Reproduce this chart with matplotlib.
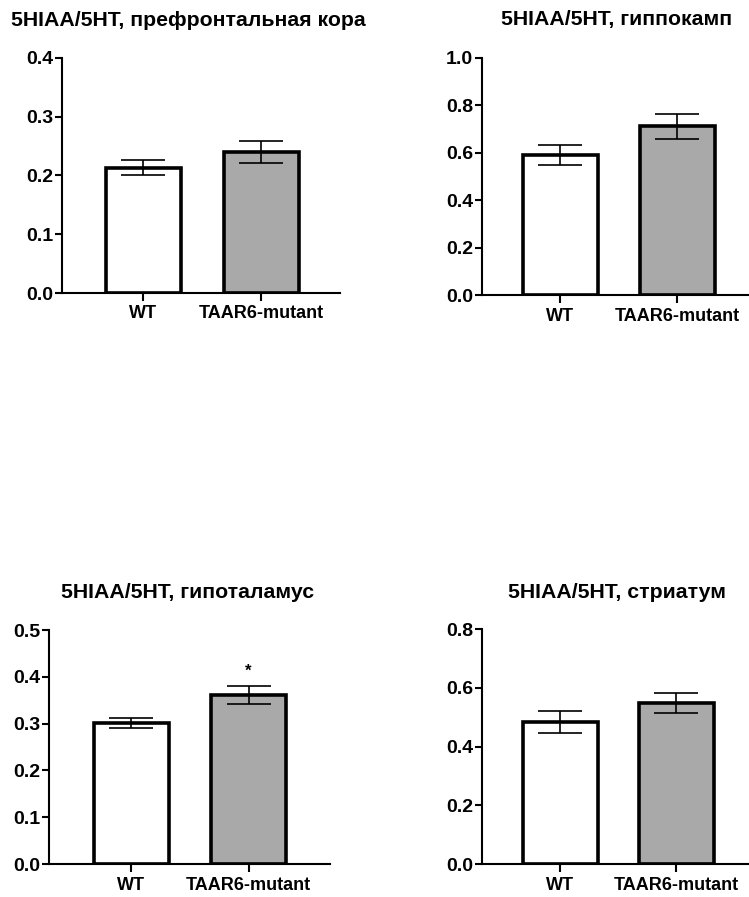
import matplotlib
matplotlib.use("Agg")
import matplotlib.pyplot as plt

plt.rcParams['font.family'] = ['Liberation Sans', 'DejaVu Sans']
plt.rcParams['font.weight'] = 'bold'

groups = ["WT", "TAAR6-mutant"]

titles = [
    "5HIAA/5HT, префронтальная кора",
    "5HIAA/5HT, гиппокамп",
    "5HIAA/5HT, гипоталамус",
    "5HIAA/5HT, стриатум",
]
means_pfc = [0.213, 0.240]
sem_pfc = [0.013, 0.019]
means_hip = [0.591, 0.712]
sem_hip = [0.042, 0.053]
means_hyp = [0.301, 0.361]
sem_hyp = [0.011, 0.020]
means_str = [0.484, 0.548]
sem_str = [0.038, 0.034]

yticks_pfc = [0.0, 0.1, 0.2, 0.3, 0.4]
yticks_hip = [0.0, 0.2, 0.4, 0.6, 0.8, 1.0]
yticks_hyp = [0.0, 0.1, 0.2, 0.3, 0.4, 0.5]
yticks_str = [0.0, 0.2, 0.4, 0.6, 0.8]

significance = [None, None, "*", None]

W, H = 749, 897
fig = plt.figure(figsize=(W / 100, H / 100), dpi=100)

# panel geometry in pixels: y-axis x, x-axis right end, top, bottom, bar spacing
panels = [
    dict(x0=62, x1=340, top=58, bot=293, c0=143, step=118, title_x=188),
    dict(x0=482, x1=760, top=58, bot=295, c0=560, step=117, title_x=617),
    dict(x0=49, x1=330, top=630, bot=864, c0=131, step=117.5, title_x=188),
    dict(x0=482, x1=760, top=629, bot=864, c0=560, step=116, title_x=617),
]
data = [
    (means_pfc, sem_pfc, yticks_pfc),
    (means_hip, sem_hip, yticks_hip),
    (means_hyp, sem_hyp, yticks_hyp),
    (means_str, sem_str, yticks_str),
]
title_y = [21, 20, 592, 592]

bar_px = 75
for p, (m, s, yt), title, tyy, sig in zip(panels, data, titles, title_y, significance):
    ax = fig.add_axes([p["x0"] / W, 1 - p["bot"] / H,
                       (p["x1"] - p["x0"]) / W, (p["bot"] - p["top"]) / H])
    ax.patch.set_alpha(0)
    xl = (p["x0"] - p["c0"]) / p["step"]
    xr = (p["x1"] - p["c0"]) / p["step"]
    ax.set_xlim(xl, xr)
    ax.set_ylim(yt[0], yt[-1])
    xs = [0, 1]
    ax.bar(xs, m, width=bar_px / p["step"], color=["white", "#a9a9a9"],
           edgecolor="black", linewidth=2.6, zorder=2)
    ax.errorbar(xs, m, yerr=s, fmt="none", ecolor="black", elinewidth=1.2,
                capsize=16, capthick=1.2, zorder=3)
    if sig:
        ax.text(1, m[1] + s[1] + (yt[-1] - yt[0]) * 0.062, sig, ha="center",
                va="center", fontsize=12, fontweight="bold")
    for side in ["top", "right"]:
        ax.spines[side].set_visible(False)
    for side in ["left", "bottom"]:
        ax.spines[side].set_linewidth(1.5)
    ax.set_yticks(yt)
    ax.set_yticklabels([f"{v:.1f}" for v in yt])
    ax.set_xticks(xs)
    ax.set_xticklabels(groups)
    ax.tick_params(axis="y", length=5, width=1.5, labelsize=14, pad=1.5)
    ax.tick_params(axis="x", length=6, width=1.5, labelsize=13, pad=3)
    fig.text(p["title_x"] / W, 1 - tyy / H, title, ha="center", va="center",
             fontsize=15.3, fontweight="bold")

fig.savefig("out.png", dpi=100, facecolor="white")
